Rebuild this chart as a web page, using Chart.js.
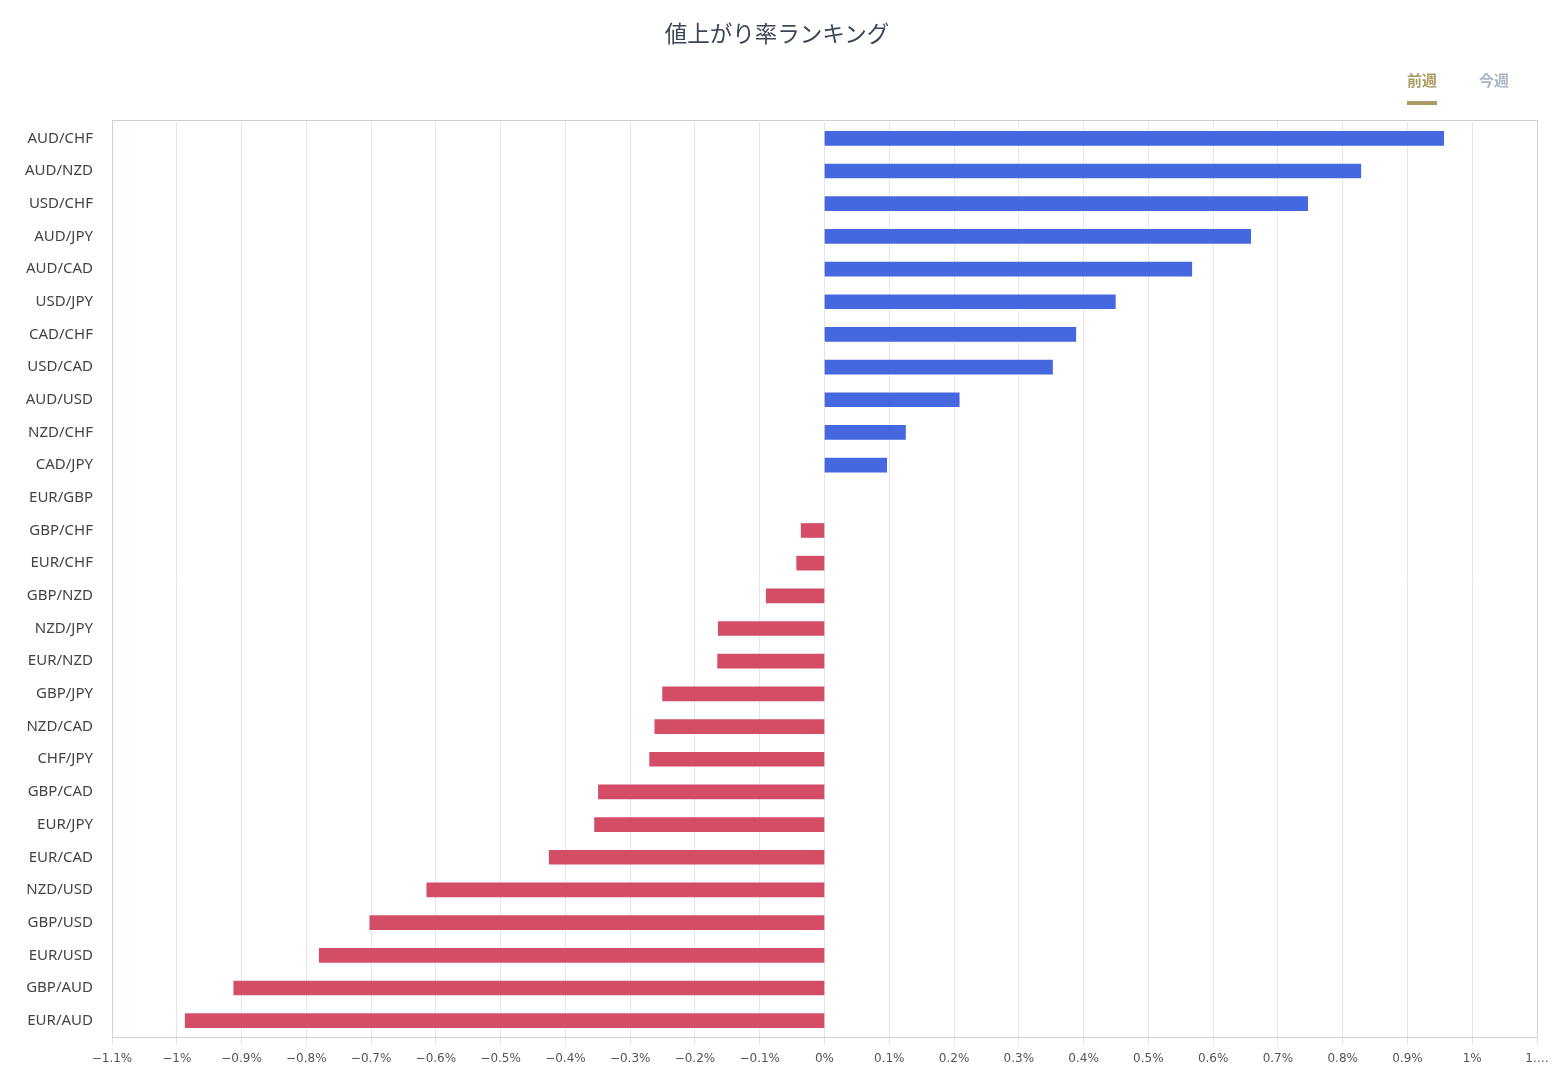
<!DOCTYPE html>
<html>
<head>
<meta charset="utf-8">
<script src="https://cdn.jsdelivr.net/npm/chart.js@4"></script>
<style>
  body { margin: 0; background: #fff; font-family: "Noto Sans", "Noto Sans CJK JP", sans-serif; }
  #wrap { position: relative; width: 1554px; height: 1090px; }
  #title { position: absolute; top: 16px; left: 0; width: 1554px; text-align: center; font-size: 22.5px; color: #3b4656; font-family: "Noto Sans CJK JP", sans-serif; }
  .tab { position: absolute; top: 69px; font-size: 15px; font-weight: bold; font-family: "Noto Sans CJK JP", sans-serif; }
  #tab_prev { left: 1407px; color: #a99b62; border-bottom: 4px solid #a99b62; padding-bottom: 11px; }
  #tab_curr { left: 1479px; color: #a8b5c3; }
  #chart-box { position: absolute; top: 0; left: 0; width: 1554px; height: 1090px; }
</style>
</head>
<body>
<div id="wrap">
  <div id="chart-box"><canvas id="rank-chart"></canvas></div>
  <div id="title">値上がり率ランキング</div>
  <div class="tab" id="tab_prev">前週</div>
  <div class="tab" id="tab_curr">今週</div>
</div>
<script>
const pairs = ["AUD/CHF", "AUD/NZD", "USD/CHF", "AUD/JPY", "AUD/CAD", "USD/JPY", "CAD/CHF", "USD/CAD",
    "AUD/USD", "NZD/CHF", "CAD/JPY", "EUR/GBP", "GBP/CHF", "EUR/CHF", "GBP/NZD", "NZD/JPY", "EUR/NZD",
    "GBP/JPY", "NZD/CAD", "CHF/JPY", "GBP/CAD", "EUR/JPY", "EUR/CAD", "NZD/USD", "GBP/USD", "EUR/USD",
    "GBP/AUD", "EUR/AUD"];
const rates = [0.956, 0.828, 0.746, 0.658, 0.567, 0.449, 0.388, 0.352, 0.208, 0.125, 0.096, 0.0,
    -0.036, -0.043, -0.090, -0.164, -0.165, -0.250, -0.262, -0.270, -0.349, -0.355, -0.425, -0.614,
    -0.702, -0.780, -0.912, -0.987];
const x_min = -1.1;
const x_max = 1.1;
const up_color = "#4567df";
const down_color = "#d34d67";

function fmt_pct(v) {
    let r = Math.round(v * 10) / 10;
    if (r == 1.1) return "1.…";
    let s = Math.abs(r).toString() + "%";
    return r < 0 ? "\u2212" + s : s;
}

function bar_color(v) {
    if (v > 0) return up_color;
    if (v < 0) return down_color;
    return "rgba(0,0,0,0)";
}

// draws the top and right edges of the plot box
const box_plugin = {
    id: "box",
    afterDraw(chart) {
        const a = chart.chartArea;
        const ctx = chart.ctx;
        ctx.save();
        ctx.strokeStyle = "#d0d0d0";
        ctx.lineWidth = 1;
        ctx.beginPath();
        ctx.moveTo(a.left, a.top - 1.5);
        ctx.lineTo(a.right + 0.5, a.top - 1.5);
        ctx.lineTo(a.right + 0.5, a.bottom);
        ctx.stroke();
        ctx.strokeStyle = "#c6d2e8";
        ctx.beginPath();
        ctx.moveTo(a.left + 0.5, a.top - 2);
        ctx.lineTo(a.left + 0.5, a.bottom);
        ctx.stroke();
        ctx.restore();
    }
};

const ctx = document.getElementById("rank-chart").getContext("2d");
const rankChart = new Chart(ctx, {
    type: "bar",
    data: {
        labels: pairs,
        datasets: [{
            data: rates,
            backgroundColor: rates.map(bar_color),
            barThickness: 14,
            borderWidth: 0
        }]
    },
    options: {
        indexAxis: "y",
        responsive: true,
        maintainAspectRatio: false,
        animation: false,
        layout: { padding: { top: 122, right: 17, left: 0, bottom: 0 } },
        plugins: {
            legend: { display: false },
            tooltip: { enabled: false }
        },
        scales: {
            x: {
                min: x_min,
                max: x_max,
                ticks: {
                    stepSize: 0.1,
                    padding: 7,
                    color: "#555",
                    font: { family: "'DejaVu Sans', sans-serif", size: 12 },
                    maxRotation: 0,
                    autoSkip: false,
                    callback: (v) => fmt_pct(v)
                },
                grid: { color: "#e6e6e6", tickLength: 8 },
                border: { color: "#d0d0d0" },
                afterFit: (axis) => { axis.height = 53; axis.paddingRight = 0; }
            },
            y: {
                ticks: {
                    padding: 19,
                    color: "#444",
                    font: { family: "'Noto Sans', sans-serif", size: 15 },
                    autoSkip: false
                },
                grid: { display: false, drawTicks: false },
                border: { color: "#c6d2e8" },
                afterFit: (axis) => { axis.width = 112; }
            }
        }
    },
    plugins: [box_plugin]
});
</script>
</body>
</html>
